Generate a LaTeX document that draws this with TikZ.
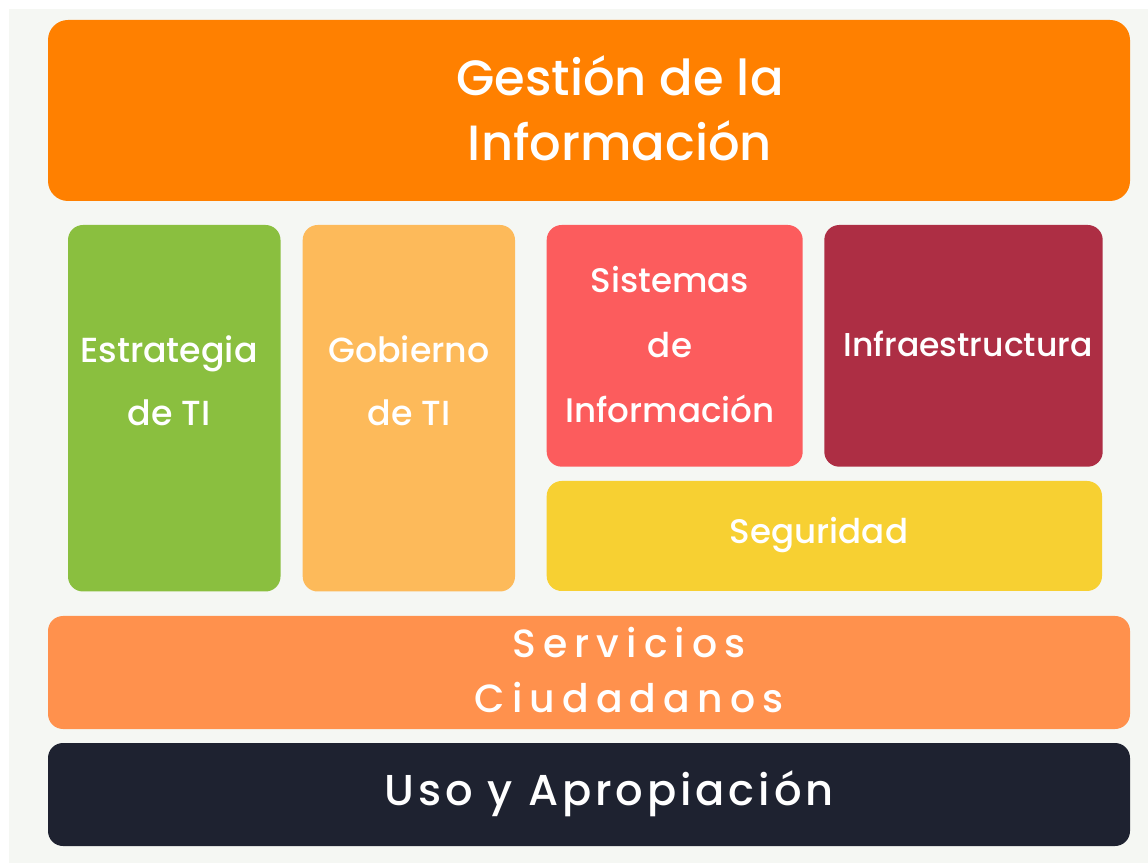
\documentclass[tikz,border=0pt]{standalone}
\usepackage{fontspec}
\setmainfont{Poppins}[UprightFont={Poppins Medium}]
\usepackage{tikz}
\usetikzlibrary{positioning}

\definecolor{bgc}{HTML}{F5F7F3}
\definecolor{topor}{HTML}{FF8000}
\definecolor{estgreen}{HTML}{8ABF3F}
\definecolor{gobor}{HTML}{FDBA5A}
\definecolor{sisred}{HTML}{FC5C5D}
\definecolor{infred}{HTML}{AD2E44}
\definecolor{segyel}{HTML}{F7D032}
\definecolor{serv}{HTML}{FF914D}
\definecolor{navy}{HTML}{1E2230}

\tikzset{
  lbl/.style={text=white, align=center, inner sep=0pt},
  box/.style={rounded corners=1.5mm}
}

\begin{document}
\begin{tikzpicture}[x=0.1mm, y=-0.1mm]
    % canvas
    \fill[white] (0,0) rectangle (1148,863);
    \fill[bgc] (9,9) rectangle (1148,863);
    % panels
    \fill[topor, rounded corners=2mm] (48,20) rectangle (1130,201);
    \fill[estgreen, box] (68,225) rectangle (280.5,591.5);
    \fill[gobor, box] (302.7,225) rectangle (515,591.5);
    \fill[sisred, box] (546.7,225) rectangle (802.7,466.7);
    \fill[infred, box] (824.3,225) rectangle (1102.7,466.7);
    \fill[segyel, box] (546.7,481) rectangle (1102,591);
    \fill[serv, box] (48,616) rectangle (1130,729);
    \fill[navy, box] (48,743) rectangle (1130,846);
    % labels
    \node[lbl, font=\fontsize{14.1}{18.5}\selectfont] (gestion) at (620,108) {Gestión de la\\Información};
    \node[lbl, font=\fontsize{9.9}{18}\selectfont] (estrategia) at (169,381) {Estrategia\\de TI};
    \node[lbl, font=\fontsize{9.9}{18}\selectfont] (gobierno) at (409,381) {Gobierno\\de TI};
    \node[lbl, font=\fontsize{9.7}{18.5}\selectfont] (sistemas) at (670,345) {Sistemas\\de\\Información};
    \node[lbl, font=\fontsize{9.4}{11}\selectfont] (infra) at (968,344) {Infraestructura};
    \node[lbl, font=\fontsize{9.7}{11}\selectfont] (seguridad) at (819,535) {Seguridad};
    \node[lbl, font=\fontsize{11.2}{15.5}\selectfont\addfontfeature{LetterSpace=18}] (servicios) at (629,670) {Servicios\\Ciudadanos};
    \node[lbl, font=\fontsize{12.3}{15}\selectfont\addfontfeature{LetterSpace=9}] (uso) at (609,794) {Uso y Apropiación};
\end{tikzpicture}
\end{document}
